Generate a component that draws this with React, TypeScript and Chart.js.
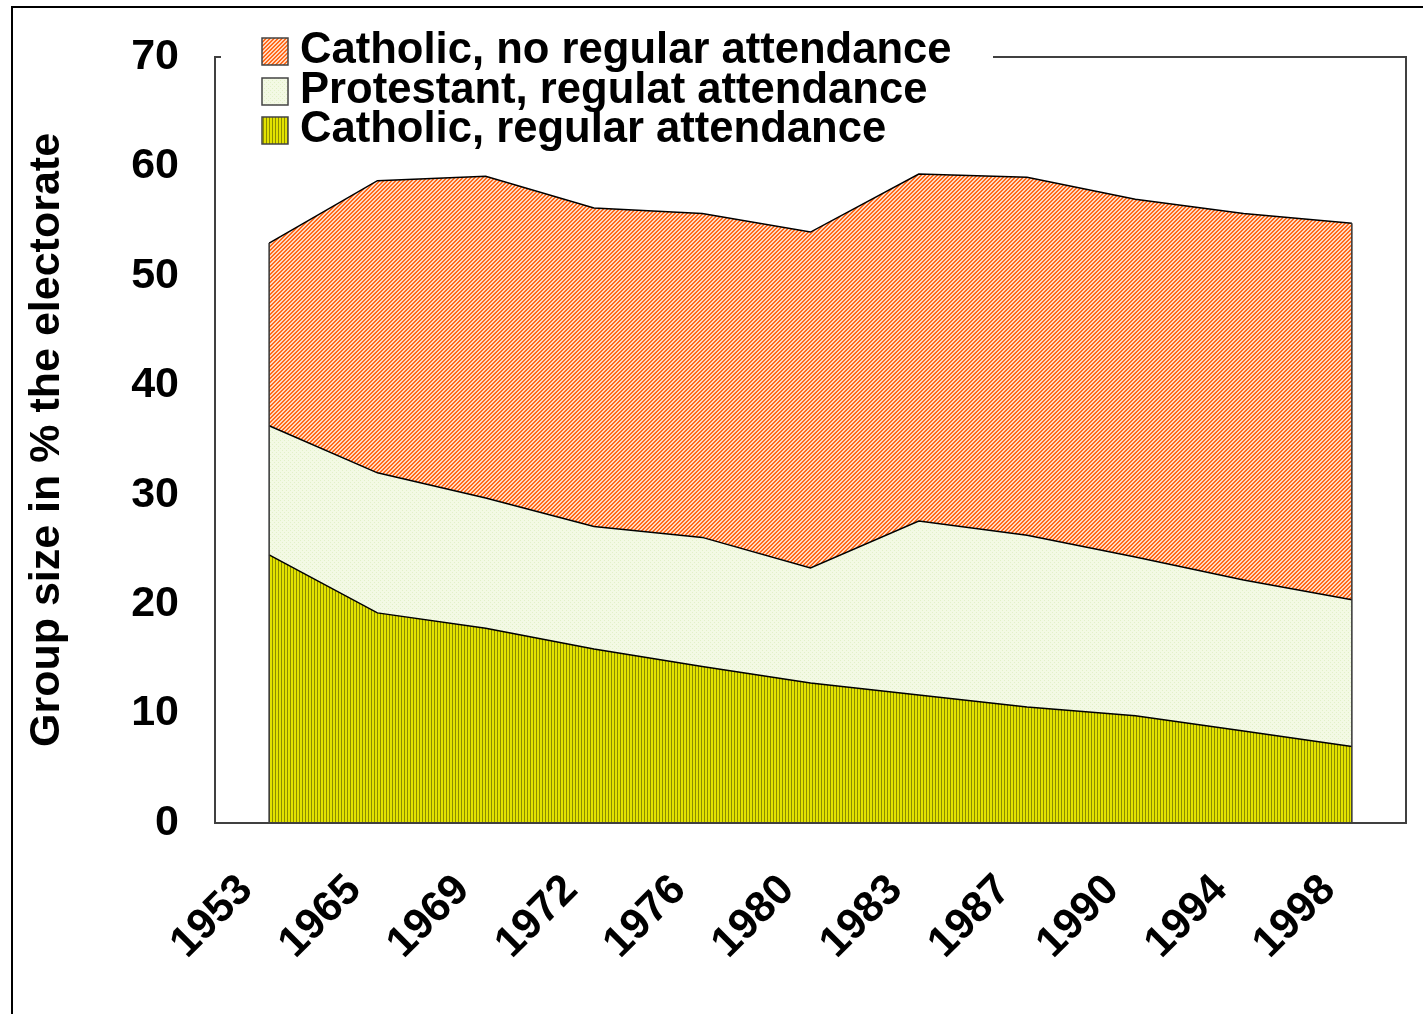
import React, { useEffect, useRef } from "react";
import { Chart, registerables } from "chart.js";

Chart.register(...registerables);

const categories = ["1953", "1965", "1969", "1972", "1976", "1980", "1983", "1987", "1990", "1994", "1998"];
const catholicRegular = [24.5, 19.2, 17.8, 15.9, 14.3, 12.8, 11.7, 10.6, 9.8, 8.4, 7.0];
const protestantRegular = [11.8, 12.8, 11.9, 11.2, 11.8, 10.5, 15.9, 15.7, 14.5, 13.8, 13.4];
const catholicNoRegular = [16.7, 26.7, 29.4, 29.1, 29.6, 30.7, 31.7, 32.7, 32.7, 33.5, 34.4];
const seriesNames = ["Catholic, regular attendance", "Protestant, regulat attendance", "Catholic, no regular attendance"];
const yTicks = [0, 10, 20, 30, 40, 50, 60, 70];
const yTitle = "Group size in % the electorate";

const FONT = "'Liberation Sans', Arial, sans-serif";

function makePattern(w: number, h: number, draw: (c: CanvasRenderingContext2D) => void) {
  const cv = document.createElement("canvas");
  cv.width = w;
  cv.height = h;
  const c = cv.getContext("2d")!;
  draw(c);
  return c.createPattern(cv, "repeat")!;
}

export default function App() {
  const ref = useRef<HTMLCanvasElement | null>(null);
  useEffect(() => {
    const canvas = ref.current!;
    const ctx0 = canvas.getContext("2d")!;

    const orange = makePattern(4, 4, (c) => {
      c.fillStyle = "#FFD8C0";
      c.fillRect(0, 0, 4, 4);
      c.fillStyle = "#FF6A1A";
      for (let i = 0; i < 4; i++) {
        c.fillRect((3 - i + 4) % 4, i, 1, 1);
        c.fillRect((4 - i + 4) % 4, i, 1, 1);
      }
    });
    const green = makePattern(4, 4, (c) => {
      c.fillStyle = "#F3F9E4";
      c.fillRect(0, 0, 4, 4);
      c.fillStyle = "#E2F0C8";
      c.fillRect(0, 0, 1, 1);
      c.fillRect(2, 2, 1, 1);
    });
    const yellow = makePattern(3, 1, (c) => {
      c.fillStyle = "#E2E200";
      c.fillRect(0, 0, 3, 1);
      c.fillStyle = "#8C8C00";
      c.fillRect(2, 0, 1, 1);
    });
    const fills = [yellow, green, orange];

    const framePlugin = {
      id: "frame",
      beforeDraw(chart: any) {
        const c = chart.ctx;
        c.save();
        c.fillStyle = "#ffffff";
        c.fillRect(0, 0, chart.width, chart.height);
        c.strokeStyle = "#000000";
        c.lineWidth = 2;
        c.beginPath();
        c.moveTo(12, chart.height + 5);
        c.lineTo(12, 7);
        c.lineTo(chart.width + 5, 7);
        c.stroke();
        c.restore();
      },
      afterDatasetsDraw(chart: any) {
        const c = chart.ctx;
        const a = chart.chartArea;
        const top = chart.getDatasetMeta(2).data;
        c.save();
        c.strokeStyle = "#333333";
        c.lineWidth = 1.5;
        c.beginPath();
        const first = top[0];
        const last = top[top.length - 1];
        c.moveTo(first.x, a.bottom);
        c.lineTo(first.x, first.y);
        c.moveTo(last.x, a.bottom);
        c.lineTo(last.x, last.y);
        c.stroke();
        c.strokeStyle = "#404040";
        c.lineWidth = 2;
        c.strokeRect(a.left, a.top, a.right - a.left, a.bottom - a.top);
        c.restore();
      },
      afterDraw(chart: any) {
        const c = chart.ctx;
        c.save();
        c.fillStyle = "#ffffff";
        c.fillRect(221, 22, 772, 130);
        const order = [2, 1, 0];
        const boxY = [38, 78, 117];
        const baseY = [63, 103, 142];
        c.font = `bold 43.6px ${FONT}`;
        c.textBaseline = "alphabetic";
        c.textAlign = "left";
        order.forEach((di, i) => {
          c.fillStyle = fills[di];
          c.fillRect(262, boxY[i], 26, 27);
          c.strokeStyle = "#444444";
          c.lineWidth = 1.5;
          c.strokeRect(262, boxY[i], 26, 27);
          c.fillStyle = "#000000";
          c.fillText(seriesNames[di], 300, baseY[i]);
        });
        c.restore();
      },
    };

    const chart = new Chart(ctx0, {
      type: "line",
      data: {
        labels: categories,
        datasets: [
          { label: seriesNames[0], data: catholicRegular, backgroundColor: yellow, borderColor: "#000000", borderWidth: 1.5, fill: "origin", pointRadius: 0, tension: 0 },
          { label: seriesNames[1], data: protestantRegular, backgroundColor: green, borderColor: "#000000", borderWidth: 1.5, fill: "-1", pointRadius: 0, tension: 0 },
          { label: seriesNames[2], data: catholicNoRegular, backgroundColor: orange, borderColor: "#000000", borderWidth: 1.5, fill: "-1", pointRadius: 0, tension: 0 },
        ],
      },
      options: {
        animation: false,
        responsive: false,
        devicePixelRatio: 1,
        layout: { padding: { left: 0, top: 57, right: 17, bottom: 0 } },
        plugins: { legend: { display: false }, tooltip: { enabled: false }, title: { display: false } },
        scales: {
          x: {
            type: "category",
            offset: true,
            grid: { display: false, drawTicks: false },
            border: { display: false },
            ticks: {
              autoSkip: false,
              minRotation: 45,
              maxRotation: 45,
              padding: 42,
              labelOffset: -23,
              color: "#000000",
              font: { family: FONT, size: 43, weight: "bold" },
            },
            afterFit(scale: any) {
              scale.height = 1014 - 823;
              scale.paddingLeft = 0;
              scale.paddingRight = 0;
              scale.paddingTop = 0;
              scale.paddingBottom = 0;
            },
          },
          y: {
            stacked: true,
            min: 0,
            max: 70,
            grid: { display: false, drawTicks: false },
            border: { display: false },
            afterBuildTicks(scale: any) {
              scale.ticks = yTicks.map((v) => ({ value: v }));
            },
            ticks: {
              stepSize: 10,
              padding: 36,
              color: "#000000",
              font: { family: FONT, size: 43, weight: "bold" },
            },
            title: {
              display: true,
              text: yTitle,
              color: "#000000",
              padding: { top: 21, bottom: 0 },
              font: { family: FONT, size: 43, weight: "bold" },
            },
            afterFit(scale: any) {
              scale.width = 215;
              scale.paddingLeft = 0;
              scale.paddingRight = 0;
              scale.paddingTop = 0;
              scale.paddingBottom = 0;
            },
          },
        },
      },
      plugins: [framePlugin],
    } as any);
    return () => chart.destroy();
  }, []);
  return (
    <div style={{ position: "fixed", left: 0, top: 0, width: 1423, height: 1014 }}>
      <canvas ref={ref} width={1423} height={1014} style={{ display: "block" }} />
    </div>
  );
}
